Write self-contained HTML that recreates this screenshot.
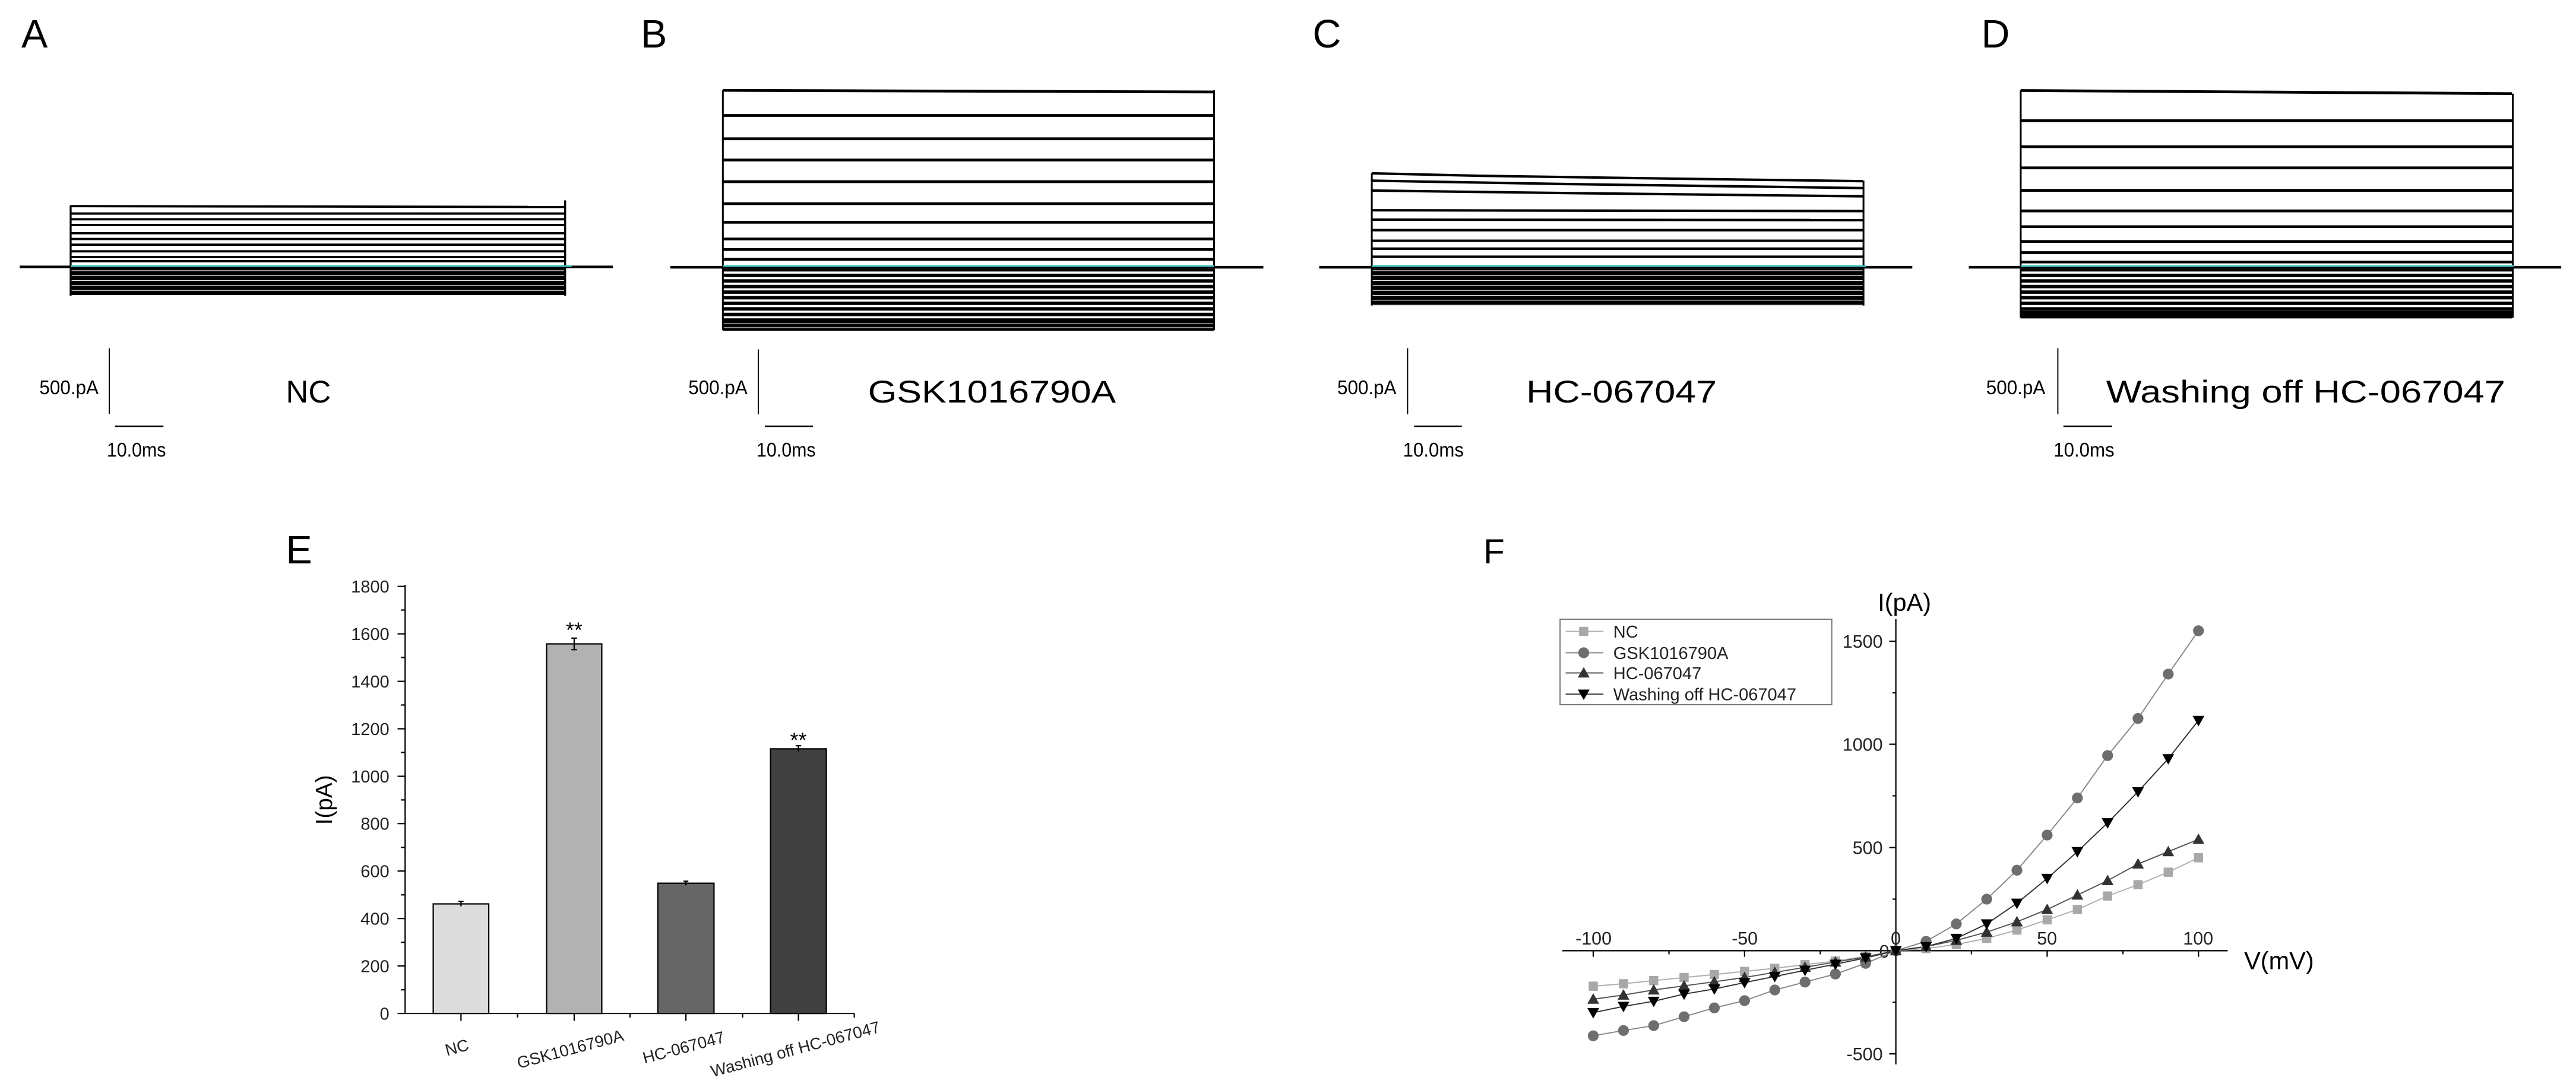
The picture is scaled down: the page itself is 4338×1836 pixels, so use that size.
<!DOCTYPE html>
<html><head><meta charset="utf-8"><style>html,body{margin:0;padding:0;background:#fff}svg{display:block}text{font-family:"Liberation Sans",sans-serif}</style></head><body>
<svg width="4338" height="1836" viewBox="0 0 1568 663.6" preserveAspectRatio="none" xmlns="http://www.w3.org/2000/svg">
<defs>
<pattern id="dk" width="6" height="3" patternUnits="userSpaceOnUse"><rect width="6" height="3" fill="#fff"/><rect width="6" height="2.6" fill="#000"/></pattern>
<pattern id="dk2" width="6" height="3.4" patternUnits="userSpaceOnUse"><rect width="6" height="3.4" fill="#fff"/><rect width="6" height="2.1" fill="#000"/></pattern>
</defs>
<rect width="1568" height="663.6" fill="#fff"/>
<g font-size="24" fill="#000"><text x="13" y="29">A</text><text x="390" y="29">B</text><text x="799" y="29">C</text><text x="1206" y="29">D</text><text x="174" y="343">E</text><text x="903" y="343" font-size="21">F</text></g>

<!-- Panel A -->
<g stroke="#000" fill="none">
<rect x="43" y="163" width="301" height="17" fill="url(#dk)" stroke="none"/>
<line x1="12" y1="162.5" x2="373" y2="162.5" stroke-width="1.6"/>
<line x1="43" y1="125" x2="43" y2="180" stroke-width="1.2"/><line x1="344" y1="122" x2="344" y2="180" stroke-width="1.2"/>
<g stroke-width="1.4"><line x1="43" y1="125.5" x2="344" y2="126"/><line x1="43" y1="130" x2="344" y2="130"/><line x1="43" y1="133.5" x2="344" y2="133.5"/><line x1="43" y1="137" x2="344" y2="137"/><line x1="43" y1="142" x2="344" y2="142"/><line x1="43" y1="145.5" x2="344" y2="145.5"/><line x1="43" y1="149" x2="344" y2="149"/><line x1="43" y1="153" x2="344" y2="153"/><line x1="43" y1="156.5" x2="344" y2="156.5"/><line x1="43" y1="159" x2="344" y2="159"/></g>
<line x1="43" y1="162" x2="348" y2="162" stroke="#3cbcbc" stroke-width="1.1"/>
<line x1="66.5" y1="212" x2="66.5" y2="252" stroke-width="0.7"/><line x1="70" y1="259.5" x2="99.5" y2="259.5" stroke-width="0.9"/>
</g>
<text x="24" y="240" font-size="12" textLength="36" lengthAdjust="spacingAndGlyphs">500.pA</text>
<text x="65" y="278" font-size="12" textLength="36" lengthAdjust="spacingAndGlyphs">10.0ms</text>
<text x="174" y="245" font-size="19">NC</text>

<!-- Panel B -->
<g stroke="#000" fill="none">
<rect x="440" y="163.5" width="299" height="37" fill="url(#dk2)" stroke="none"/>
<line x1="408" y1="162.7" x2="769" y2="162.7" stroke-width="1.6"/>
<line x1="440" y1="55" x2="440" y2="201" stroke-width="1.1"/><line x1="739" y1="55" x2="739" y2="201" stroke-width="1.1"/>
<g stroke-width="1.7"><line x1="440" y1="55" x2="739" y2="56"/><line x1="440" y1="70.3" x2="739" y2="70.3"/><line x1="440" y1="84.5" x2="739" y2="84.5"/><line x1="440" y1="97.4" x2="739" y2="97.4"/><line x1="440" y1="110.6" x2="739" y2="110.6"/><line x1="440" y1="124" x2="739" y2="124"/><line x1="440" y1="135.3" x2="739" y2="135.3"/><line x1="440" y1="145.5" x2="739" y2="145.5"/><line x1="440" y1="151.9" x2="739" y2="151.9"/><line x1="440" y1="157.9" x2="739" y2="157.9"/><line x1="440" y1="196" x2="739" y2="196"/><line x1="440" y1="200.5" x2="739" y2="200.5"/></g>
<line x1="440" y1="162" x2="739" y2="162" stroke="#3cbcbc" stroke-width="1.1"/>
<line x1="461.6" y1="212.7" x2="461.6" y2="252.2" stroke-width="0.7"/><line x1="465.6" y1="259.5" x2="494.8" y2="259.5" stroke-width="0.9"/>
</g>
<text x="419" y="240" font-size="12" textLength="36" lengthAdjust="spacingAndGlyphs">500.pA</text>
<text x="460.5" y="278" font-size="12" textLength="36" lengthAdjust="spacingAndGlyphs">10.0ms</text>
<text x="528.3" y="245" font-size="19" textLength="151" lengthAdjust="spacingAndGlyphs">GSK1016790A</text>

<!-- Panel C -->
<g stroke="#000" fill="none">
<rect x="835" y="163.5" width="299" height="22.5" fill="url(#dk)" stroke="none"/>
<line x1="803" y1="162.7" x2="1164" y2="162.7" stroke-width="1.6"/>
<line x1="835" y1="105.5" x2="835" y2="186" stroke-width="1.1"/><line x1="1134.3" y1="110" x2="1134.3" y2="186" stroke-width="1.1"/>
<g stroke-width="1.5"><polyline points="835,105.5 900,107 1000,108.5 1134,110.3"/><polyline points="835,110 950,112 1134,114.5"/><polyline points="835,116 950,117.5 1134,119.5"/><line x1="835" y1="128" x2="1134" y2="128.5"/><line x1="835" y1="133.7" x2="1134" y2="134"/><line x1="835" y1="140.1" x2="1134" y2="140.1"/><line x1="835" y1="146.6" x2="1134" y2="146.6"/><line x1="835" y1="151.4" x2="1134" y2="151.4"/><line x1="835" y1="156.3" x2="1134" y2="156.3"/></g>
<line x1="835" y1="162" x2="1136" y2="162" stroke="#3cbcbc" stroke-width="1.1"/>
<line x1="856.8" y1="212" x2="856.8" y2="252.2" stroke-width="0.7"/><line x1="860.7" y1="259.5" x2="889.8" y2="259.5" stroke-width="0.9"/>
</g>
<text x="814" y="240" font-size="12" textLength="36" lengthAdjust="spacingAndGlyphs">500.pA</text>
<text x="854" y="278" font-size="12" textLength="37" lengthAdjust="spacingAndGlyphs">10.0ms</text>
<text x="929" y="245" font-size="19" textLength="116" lengthAdjust="spacingAndGlyphs">HC-067047</text>

<!-- Panel D -->
<g stroke="#000" fill="none">
<rect x="1230" y="163.5" width="299.5" height="30" fill="url(#dk2)" stroke="none"/>
<line x1="1198.4" y1="162.7" x2="1559" y2="162.7" stroke-width="1.6"/>
<line x1="1230" y1="55" x2="1230" y2="193.4" stroke-width="1.1"/><line x1="1529.5" y1="57" x2="1529.5" y2="193.4" stroke-width="1.1"/>
<g stroke-width="1.7"><line x1="1230" y1="55.1" x2="1529" y2="57"/><line x1="1230" y1="73.5" x2="1529" y2="73.5"/><line x1="1230" y1="89.3" x2="1529" y2="89.3"/><line x1="1230" y1="102.2" x2="1529" y2="102.2"/><line x1="1230" y1="115.9" x2="1529" y2="115.9"/><line x1="1230" y1="128.4" x2="1529" y2="128.4"/><line x1="1230" y1="138" x2="1529" y2="138"/><line x1="1230" y1="147" x2="1529" y2="147"/><line x1="1230" y1="153.8" x2="1529" y2="153.8"/><line x1="1230" y1="159.5" x2="1529" y2="159.5"/><line x1="1230" y1="190" x2="1529" y2="190"/><line x1="1230" y1="193" x2="1529" y2="193"/></g>
<line x1="1230" y1="162" x2="1530" y2="162" stroke="#3cbcbc" stroke-width="1.1"/>
<line x1="1252.6" y1="212" x2="1252.6" y2="252.2" stroke-width="0.7"/><line x1="1256" y1="259.5" x2="1285.6" y2="259.5" stroke-width="0.9"/>
</g>
<text x="1209" y="240" font-size="12" textLength="36" lengthAdjust="spacingAndGlyphs">500.pA</text>
<text x="1250" y="278" font-size="12" textLength="37" lengthAdjust="spacingAndGlyphs">10.0ms</text>
<text x="1282" y="245" font-size="19" textLength="243" lengthAdjust="spacingAndGlyphs">Washing off HC-067047</text>

<!-- Panel E -->
<g stroke="#000" stroke-width="0.8">
<rect x="263.7" y="550.3" width="33.8" height="66.7" fill="#dcdcdc"/>
<rect x="332.7" y="392" width="33.6" height="225" fill="#b2b2b2"/>
<rect x="400.4" y="537.7" width="34.2" height="79.3" fill="#666"/>
<rect x="469" y="455.9" width="34" height="161.1" fill="#404040"/>
<line x1="280.6" y1="548.8" x2="280.6" y2="551.8"/><line x1="279" y1="548.8" x2="282.2" y2="548.8"/>
<line x1="349.5" y1="388.5" x2="349.5" y2="395.5"/><line x1="347.8" y1="388.5" x2="351.2" y2="388.5"/><line x1="347.8" y1="395.5" x2="351.2" y2="395.5"/>
<line x1="417.5" y1="536.5" x2="417.5" y2="539"/><line x1="416" y1="536.5" x2="419" y2="536.5"/>
<line x1="486" y1="454" x2="486" y2="457.5"/><line x1="484.3" y1="454" x2="487.7" y2="454"/>
<line x1="246.6" y1="356" x2="246.6" y2="617"/><line x1="246.6" y1="617" x2="520" y2="617"/>
<g><line x1="242" y1="617" x2="246.6" y2="617"/><line x1="242" y1="588.1" x2="246.6" y2="588.1"/><line x1="242" y1="559.2" x2="246.6" y2="559.2"/><line x1="242" y1="530.3" x2="246.6" y2="530.3"/><line x1="242" y1="501.4" x2="246.6" y2="501.4"/><line x1="242" y1="472.6" x2="246.6" y2="472.6"/><line x1="242" y1="443.7" x2="246.6" y2="443.7"/><line x1="242" y1="414.8" x2="246.6" y2="414.8"/><line x1="242" y1="385.9" x2="246.6" y2="385.9"/><line x1="242" y1="357" x2="246.6" y2="357"/></g>
<g><line x1="244" y1="602.6" x2="246.6" y2="602.6"/><line x1="244" y1="573.7" x2="246.6" y2="573.7"/><line x1="244" y1="544.8" x2="246.6" y2="544.8"/><line x1="244" y1="515.9" x2="246.6" y2="515.9"/><line x1="244" y1="487" x2="246.6" y2="487"/><line x1="244" y1="458.1" x2="246.6" y2="458.1"/><line x1="244" y1="429.2" x2="246.6" y2="429.2"/><line x1="244" y1="400.3" x2="246.6" y2="400.3"/><line x1="244" y1="371.4" x2="246.6" y2="371.4"/></g>
<g><line x1="280.6" y1="617" x2="280.6" y2="621.5"/><line x1="349.5" y1="617" x2="349.5" y2="621.5"/><line x1="417.5" y1="617" x2="417.5" y2="621.5"/><line x1="486" y1="617" x2="486" y2="621.5"/><line x1="315" y1="617" x2="315" y2="619.5"/><line x1="383.5" y1="617" x2="383.5" y2="619.5"/><line x1="452" y1="617" x2="452" y2="619.5"/><line x1="520" y1="617" x2="520" y2="619.5"/></g>
</g>
<g font-size="10.5" text-anchor="end" fill="#222"><text x="237" y="620.7">0</text><text x="237" y="591.8">200</text><text x="237" y="562.9">400</text><text x="237" y="534">600</text><text x="237" y="505.1">800</text><text x="237" y="476.3">1000</text><text x="237" y="447.4">1200</text><text x="237" y="418.5">1400</text><text x="237" y="389.6">1600</text><text x="237" y="360.7">1800</text></g>
<text transform="translate(202,487) rotate(-90)" font-size="14" text-anchor="middle">I(pA)</text>
<g font-size="13" text-anchor="middle"><text x="349.5" y="388">**</text><text x="486" y="455">**</text></g>
<g font-size="10" text-anchor="middle" fill="#222"><text transform="translate(279,641) rotate(-15)">NC</text><text transform="translate(348,642) rotate(-15)">GSK1016790A</text><text transform="translate(417,641) rotate(-15)">HC-067047</text><text transform="translate(485,642) rotate(-15)">Washing off HC-067047</text></g>

<!-- Panel F -->
<g stroke="#000" stroke-width="0.8" fill="none">
<line x1="1154" y1="377" x2="1154" y2="648"/><line x1="951" y1="578.8" x2="1356" y2="578.8"/>
<line x1="1150" y1="390.4" x2="1154" y2="390.4"/><line x1="1150" y1="453.1" x2="1154" y2="453.1"/><line x1="1150" y1="516" x2="1154" y2="516"/><line x1="1150" y1="641.6" x2="1154" y2="641.6"/>
<line x1="1152" y1="421.8" x2="1154" y2="421.8"/><line x1="1152" y1="484.5" x2="1154" y2="484.5"/><line x1="1152" y1="547.4" x2="1154" y2="547.4"/><line x1="1152" y1="610.2" x2="1154" y2="610.2"/>
<line x1="969.8" y1="578.8" x2="969.8" y2="582.5"/><line x1="1061.9" y1="578.8" x2="1061.9" y2="582.5"/><line x1="1246.1" y1="578.8" x2="1246.1" y2="582.5"/><line x1="1338.2" y1="578.8" x2="1338.2" y2="582.5"/>
<line x1="1015.9" y1="578.8" x2="1015.9" y2="581"/><line x1="1108" y1="578.8" x2="1108" y2="581"/><line x1="1200" y1="578.8" x2="1200" y2="581"/><line x1="1292.2" y1="578.8" x2="1292.2" y2="581"/>
</g>
<g font-size="11" fill="#222" text-anchor="middle"><text x="970" y="575">-100</text><text x="1062" y="575">-50</text><text x="1154" y="575">0</text><text x="1246" y="575">50</text><text x="1338" y="575">100</text></g>
<g font-size="11" fill="#222" text-anchor="end"><text x="1146" y="394.3">1500</text><text x="1146" y="457">1000</text><text x="1146" y="519.9">500</text><text x="1150" y="583">0</text><text x="1146" y="645.5">-500</text></g>
<text x="1143" y="372" font-size="15">I(pA)</text>
<text x="1366" y="590" font-size="15">V(mV)</text>
<g fill="none" stroke-width="0.7">
<polyline stroke="#b0b0b0" points="969.8,600.4 988.2,598.9 1006.6,597 1025.1,595.1 1043.5,593.3 1061.9,591.4 1080.3,589.5 1098.7,587.3 1117.2,585.1 1135.6,582.3 1154,578.8 1172.4,577.5 1190.8,575 1209.3,571.3 1227.7,566.2 1246.1,560 1264.5,553.7 1282.9,545.5 1301.4,538.6 1319.8,531 1338.2,522.2"/>
<polyline stroke="#888" points="969.8,630.6 988.2,627.4 1006.6,624.4 1025.1,619 1043.5,613.6 1061.9,609.2 1080.3,602.7 1098.7,597.9 1117.2,593 1135.6,586.5 1154,578.8 1172.4,573.1 1190.8,562.5 1209.3,547.4 1227.7,529.8 1246.1,508.4 1264.5,485.8 1282.9,460 1301.4,437.4 1319.8,410.4 1338.2,384"/>
<polyline stroke="#555" points="969.8,608.3 988.2,605.8 1006.6,602.7 1025.1,600.2 1043.5,597.7 1061.9,595.1 1080.3,592 1098.7,588.9 1117.2,585.7 1135.6,582.6 1154,578.8 1172.4,576.3 1190.8,572.5 1209.3,567.5 1227.7,561.2 1246.1,553.7 1264.5,544.9 1282.9,536.1 1301.4,526 1319.8,518.5 1338.2,511"/>
<polyline stroke="#333" points="969.8,616.5 988.2,612.7 1006.6,609.6 1025.1,605.2 1043.5,602.1 1061.9,598.2 1080.3,594.5 1098.7,590.7 1117.2,587 1135.6,583.2 1154,578.8 1172.4,576.3 1190.8,571.3 1209.3,562.5 1227.7,549.9 1246.1,534.8 1264.5,518.5 1282.9,500.9 1301.4,482 1319.8,461.9 1338.2,438.6"/>
</g>
<defs>
<rect id="ms" x="-2.8" y="-2.8" width="5.6" height="5.6" fill="#a8a8a8"/>
<circle id="mc" r="3.3" fill="#6e6e6e"/>
<polygon id="mu" points="0,-3.6 3.6,2.8 -3.6,2.8" fill="#333"/>
<polygon id="md" points="0,3.6 3.6,-2.8 -3.6,-2.8" fill="#000"/>
</defs>
<g>
<use href="#ms" x="969.8" y="600.4"/><use href="#ms" x="988.2" y="598.9"/><use href="#ms" x="1006.6" y="597"/><use href="#ms" x="1025.1" y="595.1"/><use href="#ms" x="1043.5" y="593.3"/><use href="#ms" x="1061.9" y="591.4"/><use href="#ms" x="1080.3" y="589.5"/><use href="#ms" x="1098.7" y="587.3"/><use href="#ms" x="1117.2" y="585.1"/><use href="#ms" x="1135.6" y="582.3"/><use href="#ms" x="1154" y="578.8"/><use href="#ms" x="1172.4" y="577.5"/><use href="#ms" x="1190.8" y="575"/><use href="#ms" x="1209.3" y="571.3"/><use href="#ms" x="1227.7" y="566.2"/><use href="#ms" x="1246.1" y="560"/><use href="#ms" x="1264.5" y="553.7"/><use href="#ms" x="1282.9" y="545.5"/><use href="#ms" x="1301.4" y="538.6"/><use href="#ms" x="1319.8" y="531"/><use href="#ms" x="1338.2" y="522.2"/>
<use href="#mc" x="969.8" y="630.6"/><use href="#mc" x="988.2" y="627.4"/><use href="#mc" x="1006.6" y="624.4"/><use href="#mc" x="1025.1" y="619"/><use href="#mc" x="1043.5" y="613.6"/><use href="#mc" x="1061.9" y="609.2"/><use href="#mc" x="1080.3" y="602.7"/><use href="#mc" x="1098.7" y="597.9"/><use href="#mc" x="1117.2" y="593"/><use href="#mc" x="1135.6" y="586.5"/><use href="#mc" x="1154" y="578.8"/><use href="#mc" x="1172.4" y="573.1"/><use href="#mc" x="1190.8" y="562.5"/><use href="#mc" x="1209.3" y="547.4"/><use href="#mc" x="1227.7" y="529.8"/><use href="#mc" x="1246.1" y="508.4"/><use href="#mc" x="1264.5" y="485.8"/><use href="#mc" x="1282.9" y="460"/><use href="#mc" x="1301.4" y="437.4"/><use href="#mc" x="1319.8" y="410.4"/><use href="#mc" x="1338.2" y="384"/>
<use href="#mu" x="969.8" y="608.3"/><use href="#mu" x="988.2" y="605.8"/><use href="#mu" x="1006.6" y="602.7"/><use href="#mu" x="1025.1" y="600.2"/><use href="#mu" x="1043.5" y="597.7"/><use href="#mu" x="1061.9" y="595.1"/><use href="#mu" x="1080.3" y="592"/><use href="#mu" x="1098.7" y="588.9"/><use href="#mu" x="1117.2" y="585.7"/><use href="#mu" x="1135.6" y="582.6"/><use href="#mu" x="1154" y="578.8"/><use href="#mu" x="1172.4" y="576.3"/><use href="#mu" x="1190.8" y="572.5"/><use href="#mu" x="1209.3" y="567.5"/><use href="#mu" x="1227.7" y="561.2"/><use href="#mu" x="1246.1" y="553.7"/><use href="#mu" x="1264.5" y="544.9"/><use href="#mu" x="1282.9" y="536.1"/><use href="#mu" x="1301.4" y="526"/><use href="#mu" x="1319.8" y="518.5"/><use href="#mu" x="1338.2" y="511"/>
<use href="#md" x="969.8" y="616.5"/><use href="#md" x="988.2" y="612.7"/><use href="#md" x="1006.6" y="609.6"/><use href="#md" x="1025.1" y="605.2"/><use href="#md" x="1043.5" y="602.1"/><use href="#md" x="1061.9" y="598.2"/><use href="#md" x="1080.3" y="594.5"/><use href="#md" x="1098.7" y="590.7"/><use href="#md" x="1117.2" y="587"/><use href="#md" x="1135.6" y="583.2"/><use href="#md" x="1154" y="578.8"/><use href="#md" x="1172.4" y="576.3"/><use href="#md" x="1190.8" y="571.3"/><use href="#md" x="1209.3" y="562.5"/><use href="#md" x="1227.7" y="549.9"/><use href="#md" x="1246.1" y="534.8"/><use href="#md" x="1264.5" y="518.5"/><use href="#md" x="1282.9" y="500.9"/><use href="#md" x="1301.4" y="482"/><use href="#md" x="1319.8" y="461.9"/><use href="#md" x="1338.2" y="438.6"/>
</g>
<rect x="949.6" y="377" width="165.4" height="52" fill="#fff" stroke="#777" stroke-width="0.7"/>
<g stroke-width="0.7"><line x1="953" y1="384.4" x2="976" y2="384.4" stroke="#b0b0b0"/><line x1="953" y1="397.4" x2="976" y2="397.4" stroke="#888"/><line x1="953" y1="409.7" x2="976" y2="409.7" stroke="#555"/><line x1="953" y1="422.6" x2="976" y2="422.6" stroke="#333"/></g>
<use href="#ms" x="964" y="384.4"/><use href="#mc" x="964" y="397.4"/><use href="#mu" x="964" y="409.7"/><use href="#md" x="964" y="422.6"/>
<g font-size="10.5" fill="#222"><text x="982" y="388.2">NC</text><text x="982" y="401.2">GSK1016790A</text><text x="982" y="413.5">HC-067047</text><text x="982" y="426.4">Washing off HC-067047</text></g>
</svg>
</body></html>
